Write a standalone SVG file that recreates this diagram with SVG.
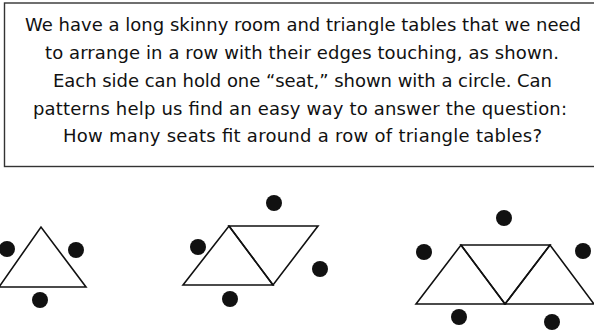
<svg xmlns="http://www.w3.org/2000/svg" width="594" height="331" viewBox="0 0 594 331">
<style>
.frame{fill:#fff;stroke:#333;stroke-width:1.4}
.t{font-family:"DejaVu Sans","Liberation Sans",sans-serif;font-size:18px;fill:#111;text-anchor:middle}
.tbl{fill:none;stroke:#111;stroke-width:1.6;stroke-linejoin:miter}
.seat{fill:#111}
</style>
<rect width="594" height="331" fill="#fff"/>
<g id="question">
<rect class="frame" x="4.5" y="3" width="592" height="163.5"/>
<text class="t" x="303" y="31" textLength="556" lengthAdjust="spacing">We have a long skinny room and triangle tables that we need</text>
<text class="t" x="302" y="59" textLength="514" lengthAdjust="spacing">to arrange in a row with their edges touching, as shown.</text>
<text class="t" x="302.5" y="87" textLength="499" lengthAdjust="spacing">Each side can hold one “seat,” shown with a circle. Can</text>
<text class="t" x="300" y="114.5" textLength="534" lengthAdjust="spacing">patterns help us find an easy way to answer the question:</text>
<text class="t" x="302.5" y="142" textLength="479" lengthAdjust="spacing">How many seats fit around a row of triangle tables?</text>
</g>
<g id="one-table">
<polygon class="tbl" points="-1,287 41,227 86,287"/>
<circle class="seat" cx="7" cy="249" r="8"/>
<circle class="seat" cx="76" cy="250" r="8"/>
<circle class="seat" cx="40" cy="300" r="8"/>
</g>
<g id="two-tables">
<polygon class="tbl" points="183,285 229,226 273,285"/>
<polygon class="tbl" points="229,226 318,226 273,285"/>
<circle class="seat" cx="274" cy="203" r="8"/>
<circle class="seat" cx="198" cy="247" r="8"/>
<circle class="seat" cx="320" cy="269" r="8"/>
<circle class="seat" cx="230" cy="299" r="8"/>
</g>
<g id="three-tables">
<polygon class="tbl" points="416,304 461,245 505,304"/>
<polygon class="tbl" points="461,245 550,245 505,304"/>
<polygon class="tbl" points="505,304 550,245 594,304"/>
<circle class="seat" cx="504" cy="218" r="8"/>
<circle class="seat" cx="424" cy="252" r="8"/>
<circle class="seat" cx="583" cy="251" r="8"/>
<circle class="seat" cx="459" cy="317" r="8"/>
<circle class="seat" cx="552" cy="322" r="8"/>
</g>
</svg>
